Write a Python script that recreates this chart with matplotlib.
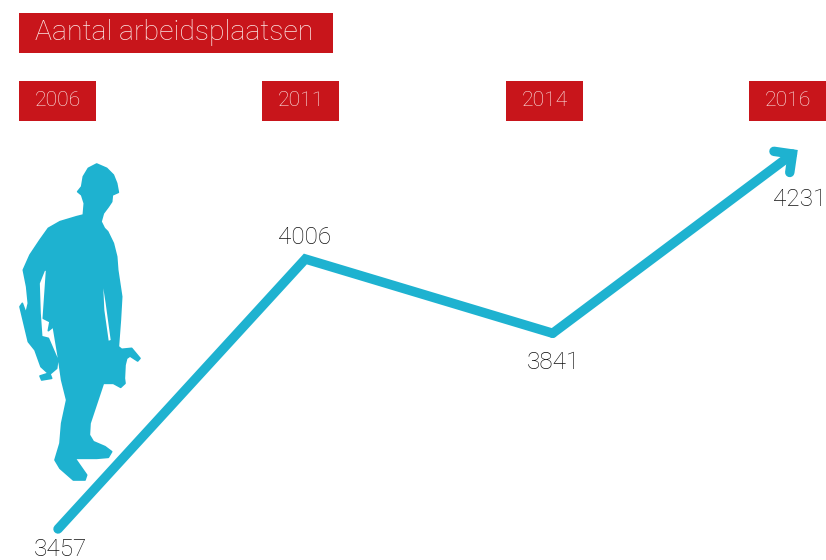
import matplotlib
matplotlib.use("Agg")
import matplotlib.pyplot as plt
from matplotlib.patches import Polygon, Rectangle

plt.rcParams['font.family'] = ['Roboto', 'DejaVu Sans']

title = "Aantal arbeidsplaatsen"
years = ["2006", "2011", "2014", "2016"]
jobs = [3457, 4006, 3841, 4231]
# the hand-drawn line sits a little above its printed 3841 at the third point
line_level = [3457, 4006, 3855, 4231]

RED = "#c8151b"
BLUE = "#1eb2d0"
INK = "#111111"
PALE = "#fbe6e4"
W, H = 826, 560

fig = plt.figure(figsize=(W / 100, H / 100), dpi=100, facecolor="white")

ax = fig.add_axes([0, 0, 1, 1])
ax.set_xlim(-58 / 247.33, 3 + 26 / 247.33)
ax.set_ylim(3457 - 31 / 0.4918, 4006 + 259 / 0.4918)
ax.axis("off")

xs = list(range(len(jobs)))
ax.plot(xs[:3], line_level[:3], color=BLUE, lw=6.8, solid_joinstyle="miter",
        solid_capstyle="round", zorder=3)
ax.annotate("", xy=(xs[3], line_level[3]), xytext=(xs[2], line_level[2]),
            arrowprops=dict(arrowstyle="->,head_length=0.95,head_width=0.95",
                            color=BLUE, lw=6.8, shrinkA=0, shrinkB=2,
                            capstyle="round", joinstyle="miter"), zorder=3)

offsets = [(2, -21), (-1, 22), (1, -29), (0, -51)]
for x, y, v, off in zip(xs, line_level, jobs, offsets):
    ax.annotate(str(v), (x, y), xytext=off, textcoords="offset pixels",
                ha="center", va="center", fontsize=17.5, color=INK,
                fontweight="light", zorder=4)

ov = fig.add_axes([0, 0, 1, 1])
ov.set_xlim(0, W)
ov.set_ylim(H, 0)
ov.axis("off")
ov.patch.set_alpha(0)

ov.add_patch(Rectangle((19, 13), 314, 40, fc=RED, ec="none"))
ov.text(35, 33, title, color=PALE, fontsize=20.4, fontweight="light",
        ha="left", va="center")

box_left = [19, 262, 506, 749]
for left, y in zip(box_left, years):
    ov.add_patch(Rectangle((left, 81), 77, 40, fc=RED, ec="none"))
    ov.text(left + 38.5, 101, y, color=PALE, fontsize=15.2,
            fontweight="light", ha="center", va="center")

def crop(ox, oy, pts):
    return [(ox + x / 3, oy + y / 3) for x, y in pts]

outline = (
    crop(15, 160, [(245,12),(275,25),(295,45),(305,70),(310,97),(292,105),(290,125),
                   (280,140),(265,160),(258,185),(268,205),(278,215),(295,250),(305,290),(308,330)])
    + crop(15, 270, [(320,80),(316,150),(310,230),(320,238),(350,235),(375,265),(368,273),
                     (345,258),(335,265),(330,285),(328,325)])
    + crop(0, 150, [(375,700),(362,712),(340,700),(310,700)])
    + crop(40, 380, [(165,85),(150,130),(148,165),(160,185),(195,200),(215,215),(205,232),
                     (170,235),(105,235),(140,285),(135,300),(100,300),(60,265),(45,240),
                     (60,190),(65,130),(80,60),(65,0)])
    + crop(15, 270, [(130,260),(115,170),(100,182),(105,155),(85,145),(95,0),(88,0),(72,40),
                     (75,130),(80,200),(100,205),(128,270),(125,295),(105,312),(110,325),
                     (80,330),(75,318),(100,310),(78,290),(60,240),(40,215),(15,110),(22,100),
                     (33,130),(40,100),(35,50),(25,0)])
    + crop(15, 160, [(45,285),(75,240),(100,205),(135,185),(185,170),(205,165),(208,130),
                     (200,105),(188,95),(200,80),(205,50),(220,25)])
)
ov.add_patch(Polygon(outline, closed=True, fc=BLUE, ec=BLUE, lw=1.2, joinstyle="round"))
sliver = crop(15, 270, [(265,55),(272,100),(287,210),(281,212),(268,120)])
ov.add_patch(Polygon(sliver, closed=True, fc="white", ec="none"))

fig.savefig("out.png", dpi=100, facecolor="white")
